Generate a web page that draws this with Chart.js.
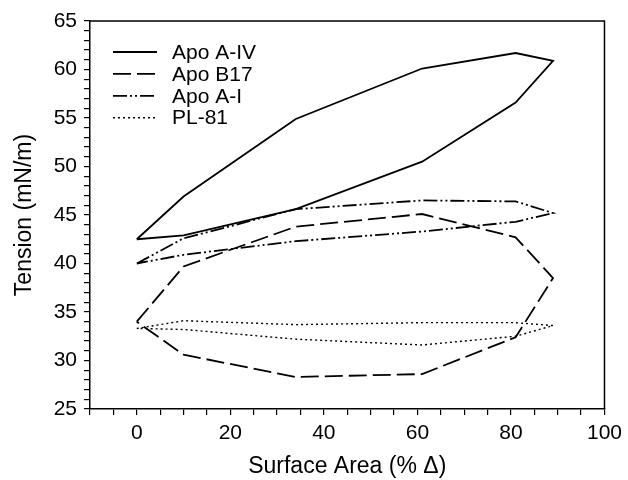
<!DOCTYPE html>
<html>
    <head>
        <meta charset="utf-8">
        <title>Tension vs Surface Area</title>
        <script src="https://cdn.jsdelivr.net/npm/chart.js@4.4.0/dist/chart.umd.min.js"></script>
        <style>
            body { margin: 0; background: #fff; }
            canvas { display: block; }
        </style>
    </head>
    <body>
        <canvas id="chart" width="628" height="480"></canvas>
        <script>
            // x positions of each compression/expansion loop (out and back)
            const surfaceArea = [0, 10, 34, 61, 81, 89, 81, 61, 34, 10, 0];
            // tension values, same order as surfaceArea
            const apoA4 = [42.5, 46.9, 54.9, 60.1, 61.7, 60.9, 56.6, 50.5, 45.6, 42.9, 42.5];
            const apoB17 = [34.0, 39.7, 43.8, 45.1, 42.7, 38.5, 32.4, 28.6, 28.3, 30.6, 34.0];
            const apoA1 = [40.0, 42.6, 45.6, 46.5, 46.4, 45.2, 44.3, 43.3, 42.3, 40.9, 40.0];
            const pl81 = [33.3, 34.1, 33.7, 33.9, 33.9, 33.6, 32.5, 31.6, 32.2, 33.2, 33.3];
            const seriesNames = ["Apo A-IV", "Apo B17", "Apo A-I", "PL-81"];

            const FONT = "'Liberation Sans', Arial, Helvetica, sans-serif";
            Chart.defaults.font.family = FONT;
            Chart.defaults.color = "#000";

            // pair x with a series
            function toPoints(ys) {
                return ys.map((y, i) => ({ x: surfaceArea[i], y: y }));
            }

            // draws the top and right sides of the box
            const framePlugin = {
                id: "frame",
                afterDraw(chart) {
                    const { ctx, chartArea: a } = chart;
                    ctx.save();
                    ctx.strokeStyle = "#000";
                    ctx.lineWidth = 1.5;
                    ctx.beginPath();
                    ctx.moveTo(a.left, a.top);
                    ctx.lineTo(a.right, a.top);
                    ctx.lineTo(a.right, a.bottom);
                    ctx.stroke();
                    ctx.restore();
                }
            };

            // legend sits inside the plot, top left
            const insideLegend = {
                id: "insideLegend",
                afterDraw(chart) {
                    const ctx = chart.ctx;
                    ctx.save();
                    ctx.font = "21px " + FONT;
                    ctx.textBaseline = "middle";
                    ctx.fillStyle = "#000";
                    chart.data.datasets.forEach((ds, i) => {
                        const y = 52 + i * 21.9;
                        ctx.strokeStyle = "#000";
                        ctx.lineWidth = ds.borderWidth;
                        ctx.setLineDash(ds.borderDash || []);
                        ctx.beginPath();
                        ctx.moveTo(113, y);
                        ctx.lineTo(157, y);
                        ctx.stroke();
                        ctx.setLineDash([]);
                        ctx.fillText(ds.label, 172, y + 1);
                    });
                    ctx.restore();
                }
            };

            const lineDefaults = {
                showLine: true,
                fill: false,
                tension: 0,
                pointRadius: 0,
                borderColor: "#000",
                borderWidth: 1.8
            };

            const data = {
                datasets: [
                    Object.assign({}, lineDefaults, { label: seriesNames[0], data: toPoints(apoA4), borderDash: [] }),
                    Object.assign({}, lineDefaults, { label: seriesNames[1], data: toPoints(apoB17), borderDash: [18, 6] }),
                    Object.assign({}, lineDefaults, { label: seriesNames[2], data: toPoints(apoA1), borderDash: [14, 3, 2, 3, 2, 3] }),
                    Object.assign({}, lineDefaults, { label: seriesNames[3], data: toPoints(pl81), borderDash: [2, 3], borderWidth: 1.4 })
                ]
            };

            const config = {
                type: "scatter",
                data: data,
                options: {
                    responsive: false,
                    animation: false,
                    devicePixelRatio: 1,
                    layout: { padding: { top: 21, right: 18, left: 0, bottom: 0 } },
                    plugins: {
                        legend: { display: false },
                        tooltip: { enabled: false }
                    },
                    scales: {
                        x: {
                            type: "linear",
                            min: -10,
                            max: 100,
                            afterFit: (s) => { s.height = 71; },
                            ticks: {
                                stepSize: 5,
                                autoSkip: false,
                                maxRotation: 0,
                                padding: 6,
                                font: { size: 21 },
                                callback: (v) => (v >= 0 && v % 20 === 0) ? v : ""
                            },
                            grid: { drawOnChartArea: false, tickLength: 6, color: "#000", lineWidth: 1.2 },
                            border: { color: "#000", width: 1.5 },
                            title: {
                                display: true,
                                text: "Surface Area (% \u0394)",
                                font: { size: 23 },
                                padding: { top: 0, bottom: 0 }
                            }
                        },
                        y: {
                            min: 25,
                            max: 65,
                            afterFit: (s) => { s.width = 90; },
                            ticks: {
                                stepSize: 1,
                                autoSkip: false,
                                padding: 7,
                                font: { size: 21 },
                                callback: (v) => (v % 5 === 0) ? v : ""
                            },
                            grid: { drawOnChartArea: false, tickLength: 6, color: "#000", lineWidth: 1.2 },
                            border: { color: "#000", width: 1.5 },
                            title: {
                                display: true,
                                text: "Tension (mN/m)",
                                font: { size: 23 },
                                padding: { top: 11, bottom: 0 }
                            }
                        }
                    }
                },
                plugins: [framePlugin, insideLegend]
            };

            const ctx = document.getElementById("chart").getContext("2d");
            const chart = new Chart(ctx, config);
        </script>
    </body>
</html>
